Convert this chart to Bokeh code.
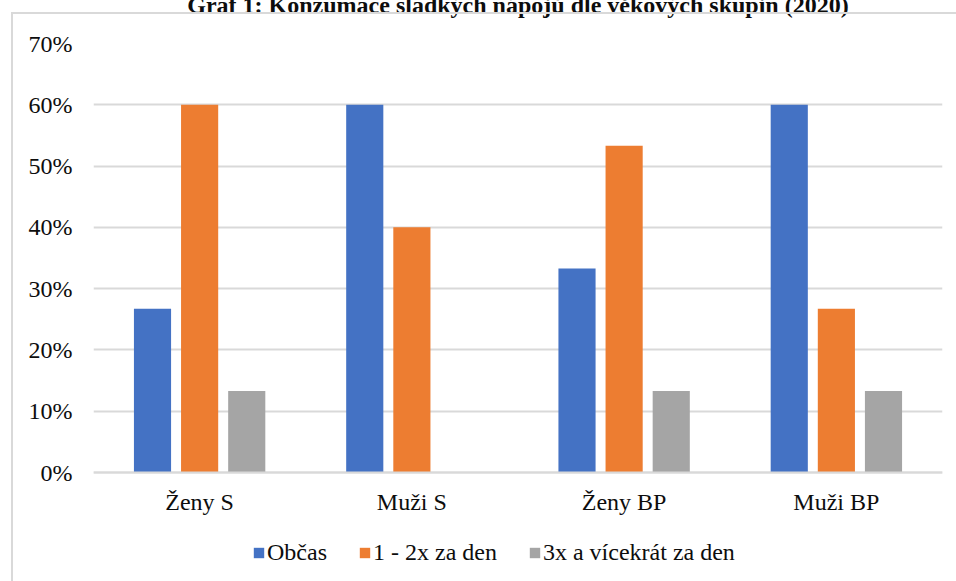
from bokeh.plotting import figure
from bokeh.models import (ColumnDataSource, FactorRange, Range1d, FixedTicker,
                          NumeralTickFormatter, Legend, LegendItem, Title, InlineStyleSheet)
from bokeh.transform import dodge
from bokeh.embed import file_html
from bokeh.resources import INLINE

# Data
groups = ["Ženy S", "Muži S", "Ženy BP", "Muži BP"]
series = ["Občas", "1 - 2x za den", "3x a vícekrát za den"]
obcas = [0.267, 0.600, 0.333, 0.600]
jednou_dvakrat = [0.600, 0.400, 0.533, 0.267]
trikrat_vice = [0.133, 0.000, 0.133, 0.133]
y_ticks = [0.0, 0.1, 0.2, 0.3, 0.4, 0.5, 0.6, 0.7]
title_text = "Graf 1: Konzumace sladkých nápojů dle věkových skupin (2020)"

colors = ["#4472C4", "#ED7D31", "#A5A5A5"]
serif = "'Liberation Serif', 'Times New Roman', serif"
font_size = "24px"
grid_col = "#d9d9d9"
text_col = "#0d0d0d"

source = ColumnDataSource(dict(group=groups, s0=obcas, s1=jednou_dvakrat, s2=trikrat_vice))

# page geometry (px): the frame reaches the bottom of the page, the value axis
# spans 0 % .. 70 % between ZERO_Y and FRAME_TOP, the legend sits below zero
SHIFT = 82          # canvas starts above the page so the caption runs off the top
PAGE_H = 581
FRAME_TOP, ZERO_Y = 43, 472
Y_MAX = 0.7
y_min = -(PAGE_H - ZERO_Y) / (ZERO_Y - FRAME_TOP) * Y_MAX

W, H = 956, PAGE_H + SHIFT
p = figure(x_range=FactorRange(*groups), y_range=Range1d(y_min, Y_MAX),
           width=W, height=H, output_backend="svg", toolbar_location=None,
           min_border_left=93, min_border_right=14, min_border_top=FRAME_TOP + SHIFT,
           min_border_bottom=0)
p.outline_line_color = None
p.background_fill_color = "white"
p.border_fill_color = "white"

renderers = []
offsets = [-0.222, 0.0, 0.222]
for i, (name, col) in enumerate(zip(series, colors)):
    r = p.vbar(x=dodge("group", offsets[i], range=p.x_range), top=f"s{i}", width=0.175,
               source=source, fill_color=col, line_color=None)
    renderers.append(r)

# axes
p.axis.major_label_text_font = serif
p.axis.major_label_text_font_size = font_size
p.axis.major_label_text_color = text_col
p.axis.major_tick_line_color = None
p.axis.minor_tick_line_color = None

p.yaxis.ticker = FixedTicker(ticks=y_ticks)
p.yaxis.formatter = NumeralTickFormatter(format="0%")
p.yaxis.axis_line_color = None
p.yaxis.major_label_standoff = 15

p.xaxis.fixed_location = 0
p.xaxis.axis_line_color = grid_col
p.xaxis.axis_line_width = 2
p.xaxis.major_label_standoff = 10

p.xgrid.grid_line_color = None
p.ygrid.grid_line_color = grid_col
p.ygrid.grid_line_width = 2

p.add_layout(Title(text=title_text, text_font=serif, text_font_size=font_size,
                   text_font_style="bold", text_color=text_col, align="center",
                   standoff=52), "above")

legend = Legend(items=[LegendItem(label=n, renderers=[r]) for n, r in zip(series, renderers)],
                orientation="horizontal", location=(159, 15),
                label_text_font=serif, label_text_font_size=font_size, label_text_color=text_col,
                glyph_width=13, glyph_height=13, label_standoff=2, spacing=31,
                border_line_color=None, background_fill_alpha=0, margin=0, padding=0)
p.add_layout(legend, "center")

# light border round the chart area (left and top edges visible)
p.styles = {"margin-top": f"-{SHIFT}px"}
p.stylesheets = [InlineStyleSheet(css=(
    ":host::after { content: ''; position: absolute; left: 11px; top: %dpx; right: 0; bottom: 0;"
    " border-left: 2px solid %s; border-top: 2px solid %s; pointer-events: none; }"
    % (12 + SHIFT, grid_col, grid_col)))]

open("out.html", "w").write(file_html(p, INLINE))
